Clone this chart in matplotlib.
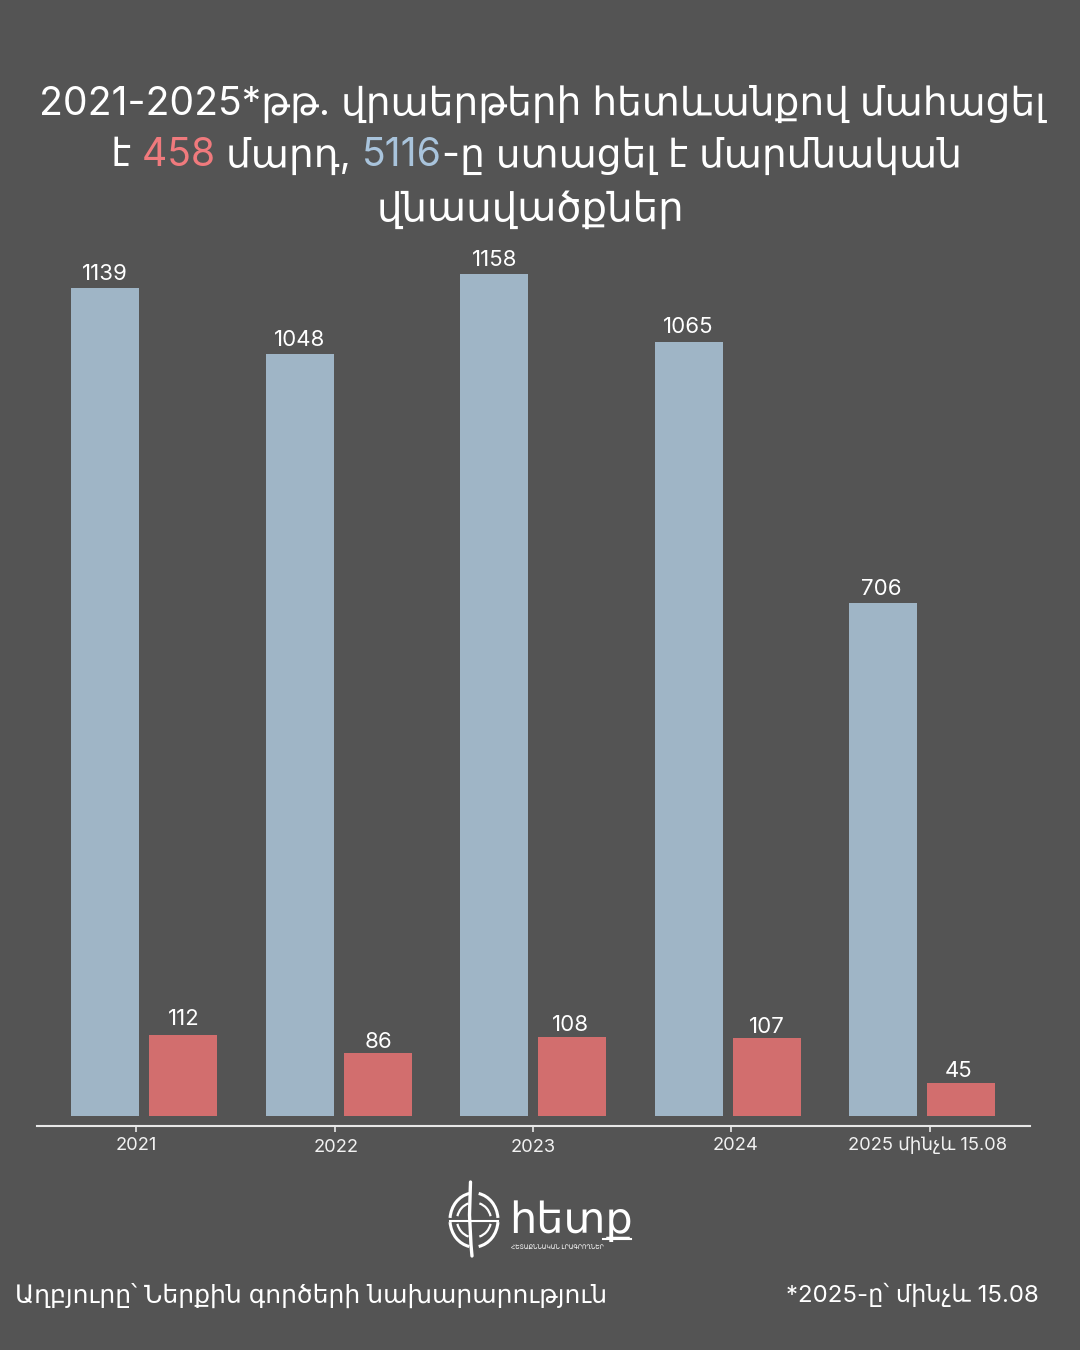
"""Deaths and injuries from road accidents, 2021-2025, bar chart on dark background."""

import matplotlib
matplotlib.use("Agg")
import matplotlib.pyplot as plt
import numpy as np
from matplotlib.patches import Arc

years = ["2021", "2022", "2023", "2024", "2025 մինչև 15.08"]
injured = [1139, 1048, 1158, 1065, 706]
deaths = [112, 86, 108, 107, 45]

BG = "#545454"
BLUE = "#9fb5c6"
RED = "#d26e6e"
WHITE = "#ffffff"
LIGHT = "#e8e8e8"

plt.rcParams["font.family"] = ["Inter", "DejaVu Sans"]

fig = plt.figure(figsize=(10.8, 13.5), dpi=100, facecolor=BG)

# axes spans x 37-1030 px, y 250-1126 px
ax = fig.add_axes([37 / 1080, 1 - 1126 / 1350, 993 / 1080, 876 / 1350], facecolor=BG)
x = np.arange(len(years))
# group centres sit at 144 px + 194.6 px per category
px_per_cat = 194.6
ax.set_xlim(-(144 - 37) / px_per_cat, (1030 - 144) / px_per_cat)
# value 0 sits 10 px above the axis line
px_per_unit = (1116 - 274) / 1158
ax.set_ylim(-10 / px_per_unit, 866 / px_per_unit)

bar_w = 68 / px_per_cat
off = 39 / px_per_cat
ax.bar(x - off, injured, bar_w, color=BLUE)
ax.bar(x + off, deaths, bar_w, color=RED)

# value labels were nudged by hand in the original (pixels right, up)
nudge_a = [(0, 4), (0, 4), (0, 4), (-1, 5), (-2, 4)]
nudge_b = [(1, 6), (1, 1), (-2, 2), (0, 1), (-3, 2)]
for xi, a, b, na, nb in zip(x, injured, deaths, nudge_a, nudge_b):
    ax.annotate(str(a), (xi - off, a), xytext=na, textcoords="offset pixels",
                ha="center", va="bottom", color=WHITE, fontsize=16)
    ax.annotate(str(b), (xi + off, b), xytext=nb, textcoords="offset pixels",
                ha="center", va="bottom", color=WHITE, fontsize=16)

for s in ["top", "left", "right"]:
    ax.spines[s].set_visible(False)
ax.spines["bottom"].set_color(LIGHT)
ax.spines["bottom"].set_linewidth(1.5)
ax.set_yticks([])
# ticks are not on the group centres in the original
ax.set_xticks([(px - 144) / px_per_cat for px in [136, 335, 533, 731, 930]])
ax.set_xticklabels([])
ax.tick_params(axis="x", length=4.5, width=1.2, color=LIGHT)


def ftext(px, py, s, **kw):
    """Place text using reference pixel coordinates."""
    return fig.text(px / 1080, 1 - py / 1350, s, color=kw.pop("color", WHITE), **kw)


for label, px, py in zip(years, [136, 336, 533, 735, 928], [1145, 1148, 1148, 1145, 1145]):
    ftext(px, py, label, fontsize=13.2, ha="center", va="center", color="#f2f2f2")


def line_parts(py, parts, size):
    """Draw a centred line of differently coloured pieces."""
    renderer = fig.canvas.get_renderer()
    items = [ftext(0, py, s, color=c, fontsize=size, va="center", ha="left") for s, c in parts]
    widths = [t.get_window_extent(renderer).width for t in items]
    left = 536 - sum(widths) / 2
    for t, w in zip(items, widths):
        t.set_x(left / 1080)
        left += w


TITLE_SIZE = 28.2
ftext(542, 104, "2021-2025*թթ. վրաերթերի հետևանքով մահացել", fontsize=TITLE_SIZE, ha="center", va="center")
line_parts(156, [("է ", WHITE), ("458 ", "#f07a7d"), ("մարդ, ", WHITE), ("5116", "#a9c4dc"), ("-ը ստացել է մարմնական", WHITE)], TITLE_SIZE)
ftext(530, 210, "վնասվածքներ", fontsize=29, ha="center", va="center")

ftext(15, 1295, "Աղբյուրը՝ Ներքին գործերի նախարարություն", fontsize=18, ha="left", va="center")
ftext(1039, 1295, "*2025-ը՝ մինչև 15.08", fontsize=17.3, ha="right", va="center")

# logo: globe mark and wordmark
logo = fig.add_axes([440 / 1080, 1 - 1262 / 1350, 70 / 1080, 84 / 1350], facecolor="none")
logo.set_xlim(440, 510)
logo.set_ylim(1262, 1178)
logo.axis("off")
for t1, t2 in [(5, 80), (100, 175), (185, 260), (280, 355)]:
    logo.add_patch(Arc((474, 1220), 48, 54, theta1=t1, theta2=t2, ec=WHITE, lw=2.2))
    logo.add_patch(Arc((474, 1220), 34, 35, theta1=t1 + 8, theta2=t2 - 8, ec=WHITE, lw=1.6))
logo.plot([450, 498], [1221, 1221], color=WHITE, lw=1.5)
logo.plot([470.5, 469.5, 471, 472], [1182, 1215, 1245, 1256], color=WHITE, lw=2.4, solid_capstyle="round")

ftext(509, 1233, "հետք", fontsize=31, ha="left", va="baseline")
fig.add_artist(plt.Line2D([603 / 1080, 631 / 1080], [1 - 1239 / 1350] * 2, color=WHITE, lw=1.5))
# small line sits just under the wordmark's box
ftext(511, 1247, "ՀԵՏԱՔՆՆԱԿԱՆ ԼՐԱԳՐՈՂՆԵՐ", fontsize=4.3, ha="left", va="center")

fig.savefig("out.png", dpi=100, facecolor=BG)
